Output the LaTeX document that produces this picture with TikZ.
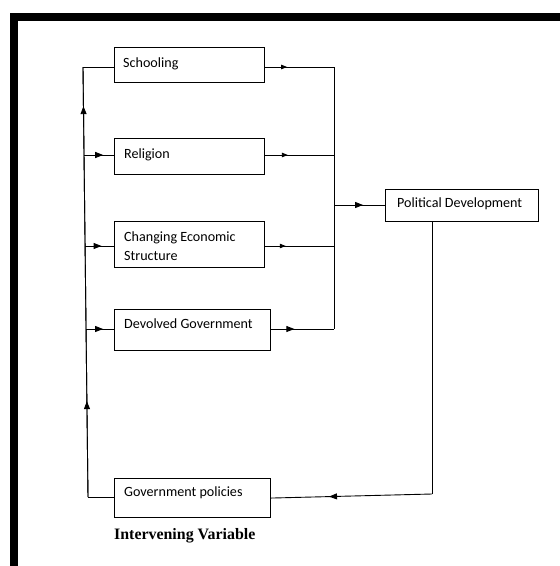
\documentclass[tikz,border=0pt]{standalone}
\usepackage{fontspec}
\setmainfont{Carlito}
\newfontfamily\captfont{Liberation Serif}
\usetikzlibrary{arrows.meta,decorations.markings}
\tikzset{
  box/.style={draw, line width=1.1pt, anchor=north west, inner sep=0pt},
  conn/.style={line width=0.9pt},
  txt/.style={anchor=base west, inner sep=0pt, font=\fontsize{14.1}{17}\selectfont},
  bigtip/.style={postaction={decorate}, decoration={markings, mark=at position #1 with {\arrow{Triangle[length=8pt,width=6pt]}}}},
  smalltip/.style={postaction={decorate}, decoration={markings, mark=at position #1 with {\arrow{Triangle[length=6pt,width=4.5pt]}}}},
}
\begin{document}
\begin{tikzpicture}[x=1pt, y=-1pt]
\useasboundingbox (0,0) rectangle (560,566);
% frame
\fill[black] (10,13) rectangle (560,21);
\fill[black] (10,13) rectangle (17.5,566);

% boxes
\node[box, minimum width=150pt, minimum height=35pt] (school) at (114,47) {};
\node[box, minimum width=150pt, minimum height=36pt] (relig) at (114,138) {};
\node[box, minimum width=150pt, minimum height=46pt] (econ) at (114,221) {};
\node[box, minimum width=156pt, minimum height=41pt] (devol) at (114,309) {};
\node[box, minimum width=153pt, minimum height=32pt] (polit) at (385,189) {};
\node[box, minimum width=156pt, minimum height=39pt] (govt) at (114,478) {};

% texts
\node[txt] (schoolT) at (123,67.5) {Schooling};
\node[txt] (religT) at (124,158.3) {Religion};
\node[txt] (econT1) at (124,241.7) {Changing Economic};
\node[txt] (econT2) at (124,260) {Structure};
\node[txt] (devolT) at (124,328.3) {Devolved Government};
\node[txt] (politT) at (397,207.3) {Political Development};
\node[txt] (govtT) at (124,496.7) {Government policies};
\node[anchor=base west, inner sep=0pt, font=\captfont\bfseries\fontsize{15.9}{18}\selectfont] (caption) at (114,539) {Intervening Variable};

% left bus coordinates
\coordinate (lB) at (88,497);
\coordinate (lT) at (83,67);
\coordinate (lR) at (84,155);
\coordinate (lE) at (85.1,246);
\coordinate (lD) at (86,329);
% right bus coordinates
\coordinate (rS) at (334,67);
\coordinate (rR) at (334,155);
\coordinate (rE) at (334,246);
\coordinate (rD) at (334,329);
\coordinate (rP) at (334,205);
\coordinate (bR) at (432,494);

% left bus
\draw[conn] (govt.west |- lB) -- (lB);
\draw[conn, bigtip=0.223] (lB) -- (lT);
\draw[conn, bigtip=0.909] (lB) -- (lT);
\draw[conn] (lT) -- (school.west |- lT);
\draw[conn, bigtip=0.64] (lR) -- (relig.west |- lR);
\draw[conn, bigtip=0.57] (lE) -- (econ.west |- lE);
\draw[conn, bigtip=0.61] (lD) -- (devol.west |- lD);

% right bus
\draw[conn, smalltip=0.32] (school.east |- rS) -- (rS);
\draw[conn, smalltip=0.33] (relig.east |- rR) -- (rR);
\draw[conn, smalltip=0.30] (econ.east |- rE) -- (rE);
\draw[conn, bigtip=0.37] (devol.east |- rD) -- (rD);
\draw[conn] (rS) -- (rD);
\draw[conn, bigtip=0.57] (rP) -- (polit.west |- rP);

% feedback
\draw[conn] (polit.south -| bR) -- (bR);
\draw[conn, bigtip=0.64] (bR) -- (govt.east);
\end{tikzpicture}
\end{document}
